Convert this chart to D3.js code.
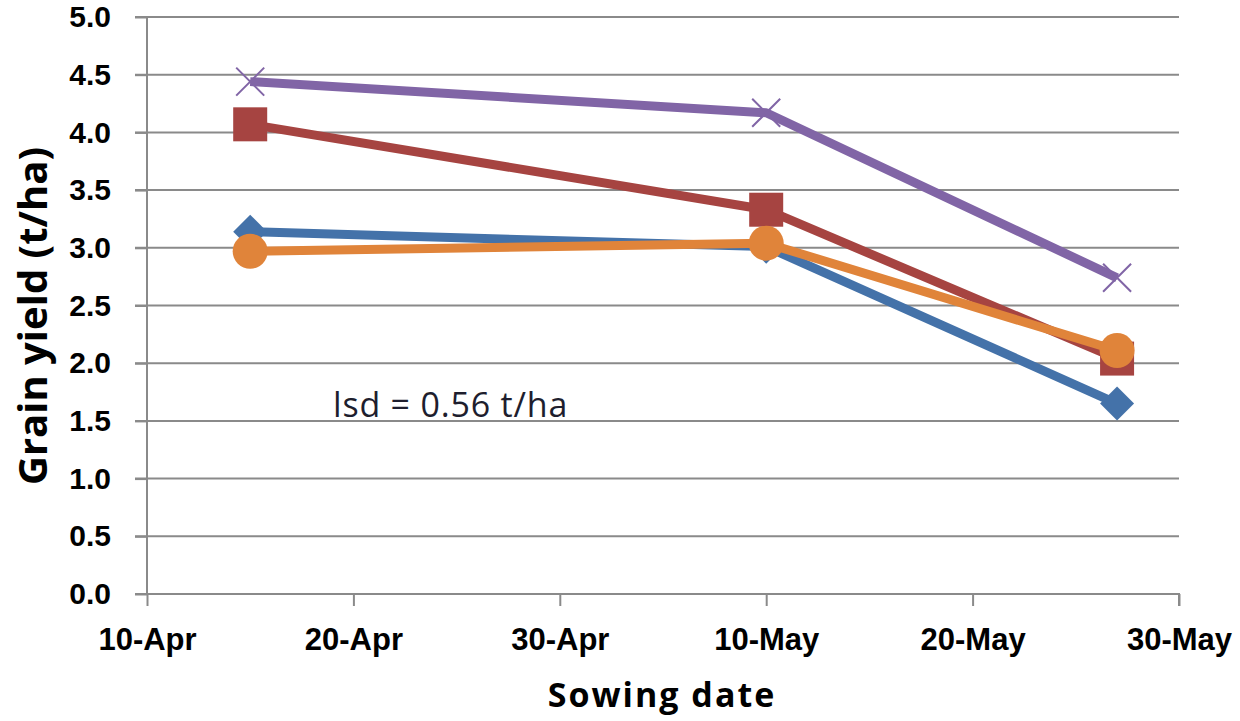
<!DOCTYPE html>
<html><head><meta charset="utf-8">
<script src="https://cdn.jsdelivr.net/npm/d3@7"></script>
<style>
html,body{margin:0;padding:0;background:#fff;}
svg{display:block;font-family:Carlito,Lato,"Open Sans",sans-serif;}
</style></head>
<body><svg id="c" width="1240" height="721"></svg>
<script>
const sowingDates = ["2015-04-15","2015-05-10","2015-05-27"];
const seriesNames = ["Blue","Red","Purple","Orange"];
const blueValues   = [3.14, 3.01, 1.65];
const redValues    = [4.07, 3.33, 2.04];
const purpleValues = [4.44, 4.17, 2.74];
const orangeValues = [2.97, 3.04, 2.11];
const xTickLabels = ["10-Apr","20-Apr","30-Apr","10-May","20-May","30-May"];
const xTickDates = ["2015-04-10","2015-04-20","2015-04-30","2015-05-10","2015-05-20","2015-05-30"];
const yTicks = [0,0.5,1,1.5,2,2.5,3,3.5,4,4.5,5];
const lsdLabel = "lsd = 0.56 t/ha";

const parse = d3.utcParse("%Y-%m-%d");
const svg = d3.select("#c");
const L = 147, R = 1179, T = 17, B = 594;

const x = d3.scaleUtc().domain([parse(xTickDates[0]), parse(xTickDates[5])]).range([L, R]);
const y = d3.scaleLinear().domain([0, 5]).range([B, T]);

const gridColor = "#8a8a8a";
// grid
svg.append("g").selectAll("line").data(yTicks.filter(d => d > 0)).join("line")
  .attr("x1", L - 12).attr("x2", R).attr("y1", d => y(d)).attr("y2", d => y(d))
  .attr("stroke", gridColor).attr("stroke-width", 2);

// y axis
const yAxis = svg.append("g").attr("transform", `translate(${L},0)`)
  .call(d3.axisLeft(y).tickValues(yTicks).tickFormat(d3.format(".1f")).tickSize(12).tickPadding(24));
yAxis.select(".domain").attr("stroke", gridColor).attr("stroke-width", 2).attr("d", `M-12,${B}H0V${T}`);
yAxis.selectAll(".tick line").attr("stroke", gridColor).attr("stroke-width", 2);
yAxis.selectAll(".tick text").attr("font-size", 30).attr("font-weight", 700).attr("fill", "#000");

// x axis
const xAxis = svg.append("g").attr("transform", `translate(0,${B})`)
  .call(d3.axisBottom(x).tickValues(xTickDates.map(parse)).tickFormat((d, i) => xTickLabels[i]).tickSize(12).tickPadding(22));
xAxis.select(".domain").attr("stroke", gridColor).attr("stroke-width", 2).attr("d", `M${L},0H${R}V12`);
xAxis.selectAll(".tick line").attr("stroke", gridColor).attr("stroke-width", 2);
xAxis.selectAll(".tick text").attr("font-size", 31).attr("font-weight", 700).attr("fill", "#000");

// titles
svg.append("text").attr("x", 662).attr("y", 707).attr("text-anchor", "middle")
  .attr("font-family", "'Open Sans',sans-serif").attr("letter-spacing", 2)
  .attr("font-size", 34).attr("font-weight", 700).attr("fill", "#000").text("Sowing date");
svg.append("text").attr("transform", "translate(47,316) rotate(-90)").attr("text-anchor", "middle")
  .attr("font-family", "'Open Sans',sans-serif")
  .attr("font-size", 40).attr("font-weight", 700).attr("fill", "#000").text("Grain yield (t/ha)");
svg.append("text").attr("x", 333).attr("y", 417)
  .attr("font-family", "'Open Sans',sans-serif").attr("letter-spacing", 0.8)
  .attr("font-size", 34).attr("fill", "#1e1e2e").text(lsdLabel);

const series = [
  {name: seriesNames[0], values: blueValues, color: "#4472A9", marker: "diamond"},
  {name: seriesNames[1], values: redValues, color: "#A64441", marker: "square"},
  {name: seriesNames[2], values: purpleValues, color: "#8165A6", marker: "x"},
  {name: seriesNames[3], values: orangeValues, color: "#E0843A", marker: "circle"}
];
const line = d3.line().x(d => x(d.date)).y(d => y(d.v));

series.forEach(s => {
  const pts = s.values.map((v, i) => ({date: parse(sowingDates[i]), v}));
  const g = svg.append("g");
  g.append("path").datum(pts).attr("d", line).attr("fill", "none")
    .attr("stroke", s.color).attr("stroke-width", 9).attr("stroke-linejoin", "round");
  pts.forEach(p => {
    const cx = x(p.date), cy = y(p.v);
    if (s.marker === "square") {
      g.append("rect").attr("x", cx - 17).attr("y", cy - 17).attr("width", 34).attr("height", 34).attr("fill", s.color);
    } else if (s.marker === "circle") {
      g.append("circle").attr("cx", cx).attr("cy", cy).attr("r", 17.5).attr("fill", s.color);
    } else if (s.marker === "diamond") {
      g.append("path").attr("d", `M${cx},${cy-17}L${cx+17},${cy}L${cx},${cy+17}L${cx-17},${cy}Z`).attr("fill", s.color);
    } else {
      g.append("path").attr("d", `M${cx-14},${cy-14}L${cx+14},${cy+14}M${cx-14},${cy+14}L${cx+14},${cy-14}`)
        .attr("stroke", s.color).attr("stroke-width", 2);
    }
  });
});
</script></body></html>
